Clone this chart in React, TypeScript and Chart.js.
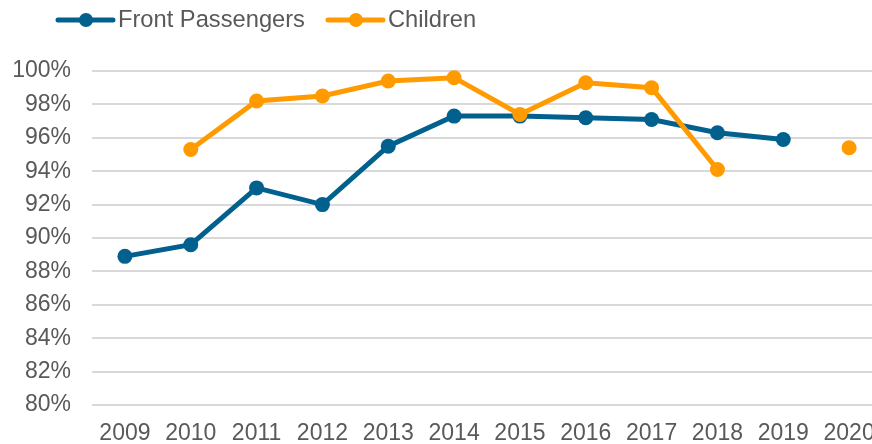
import React, { useEffect, useRef } from "react";
import { Chart, registerables } from "chart.js";

Chart.register(...registerables);

const years = ["2009", "2010", "2011", "2012", "2013", "2014", "2015", "2016", "2017", "2018", "2019", "2020"];
const frontPassengers = [88.9, 89.6, 93.0, 92.0, 95.5, 97.3, 97.3, 97.2, 97.1, 96.3, 95.9, null];
const children = [null, 95.3, 98.2, 98.5, 99.4, 99.6, 97.4, 99.3, 99.0, 94.1, null, 95.4];
const seriesNames = ["Front Passengers", "Children"];
const seriesColors = ["#02608F", "#FF9B00"];

const FONT = "'Liberation Sans', Arial, sans-serif";
const TEXT = "#595959";

const legendPlugin = {
  id: "customLegend",
  afterDraw(chart: any) {
    const ctx = chart.ctx;
    ctx.save();
    ctx.font = `23.7px ${FONT}`;
    ctx.textBaseline = "middle";
    ctx.textAlign = "left";
    const y = 20;
    let x = 58;
    seriesNames.forEach((name, i) => {
      const c = seriesColors[i];
      ctx.strokeStyle = c;
      ctx.lineWidth = 5;
      ctx.lineCap = "round";
      ctx.beginPath();
      ctx.moveTo(x, y);
      ctx.lineTo(x + 55, y);
      ctx.stroke();
      ctx.fillStyle = c;
      ctx.beginPath();
      ctx.arc(x + 28, y, 7, 0, Math.PI * 2);
      ctx.fill();
      ctx.fillStyle = TEXT;
      ctx.fillText(name, x + 60, y);
      x += 60 + ctx.measureText(name).width + 23;
    });
    ctx.restore();
  },
};

export default function App() {
  const ref = useRef<HTMLCanvasElement | null>(null);
  useEffect(() => {
    if (!ref.current) return;
    const chart = new Chart(ref.current, {
      type: "line",
      data: {
        labels: years,
        datasets: [
          {
            label: seriesNames[0],
            data: frontPassengers,
            borderColor: seriesColors[0],
            backgroundColor: seriesColors[0],
            borderWidth: 5,
            pointRadius: 7.5,
            pointHoverRadius: 7.5,
            pointBorderWidth: 0,
            tension: 0,
            spanGaps: false,
            order: 1,
          },
          {
            label: seriesNames[1],
            data: children,
            borderColor: seriesColors[1],
            backgroundColor: seriesColors[1],
            borderWidth: 5,
            pointRadius: 7.5,
            pointHoverRadius: 7.5,
            pointBorderWidth: 0,
            tension: 0,
            spanGaps: false,
            order: 0,
          },
        ],
      },
      plugins: [legendPlugin],
      options: {
        responsive: false,
        animation: false,
        devicePixelRatio: 1,
        clip: false as any,
        layout: { padding: { top: 71, left: 0, right: 0, bottom: 0 } },
        plugins: { legend: { display: false }, tooltip: { enabled: false } },
        scales: {
          x: {
            offset: true,
            grid: { display: false, drawTicks: false },
            border: { display: false },
            ticks: {
              color: TEXT,
              font: { family: FONT, size: 23 },
              padding: 15,
              maxRotation: 0,
              autoSkip: false,
            },
            afterFit: (s: any) => {
              s.height = 39;
            },
          },
          y: {
            min: 80,
            max: 100,
            grid: { color: "#D9D9D9", lineWidth: 2, drawTicks: false },
            border: { display: false },
            ticks: {
              stepSize: 2,
              color: TEXT,
              font: { family: FONT, size: 23 },
              padding: 21,
              callback: (v: any) => `${v}%`,
            },
            afterFit: (s: any) => {
              s.width = 92;
            },
          },
        },
      },
    });
    return () => chart.destroy();
  }, []);
  return (
    <div style={{ position: "fixed", left: 0, top: 0, width: 872, height: 444, overflow: "hidden", background: "#fff" }}>
      <canvas ref={ref} width={890} height={444} style={{ display: "block", width: 890, height: 444 }} />
    </div>
  );
}
